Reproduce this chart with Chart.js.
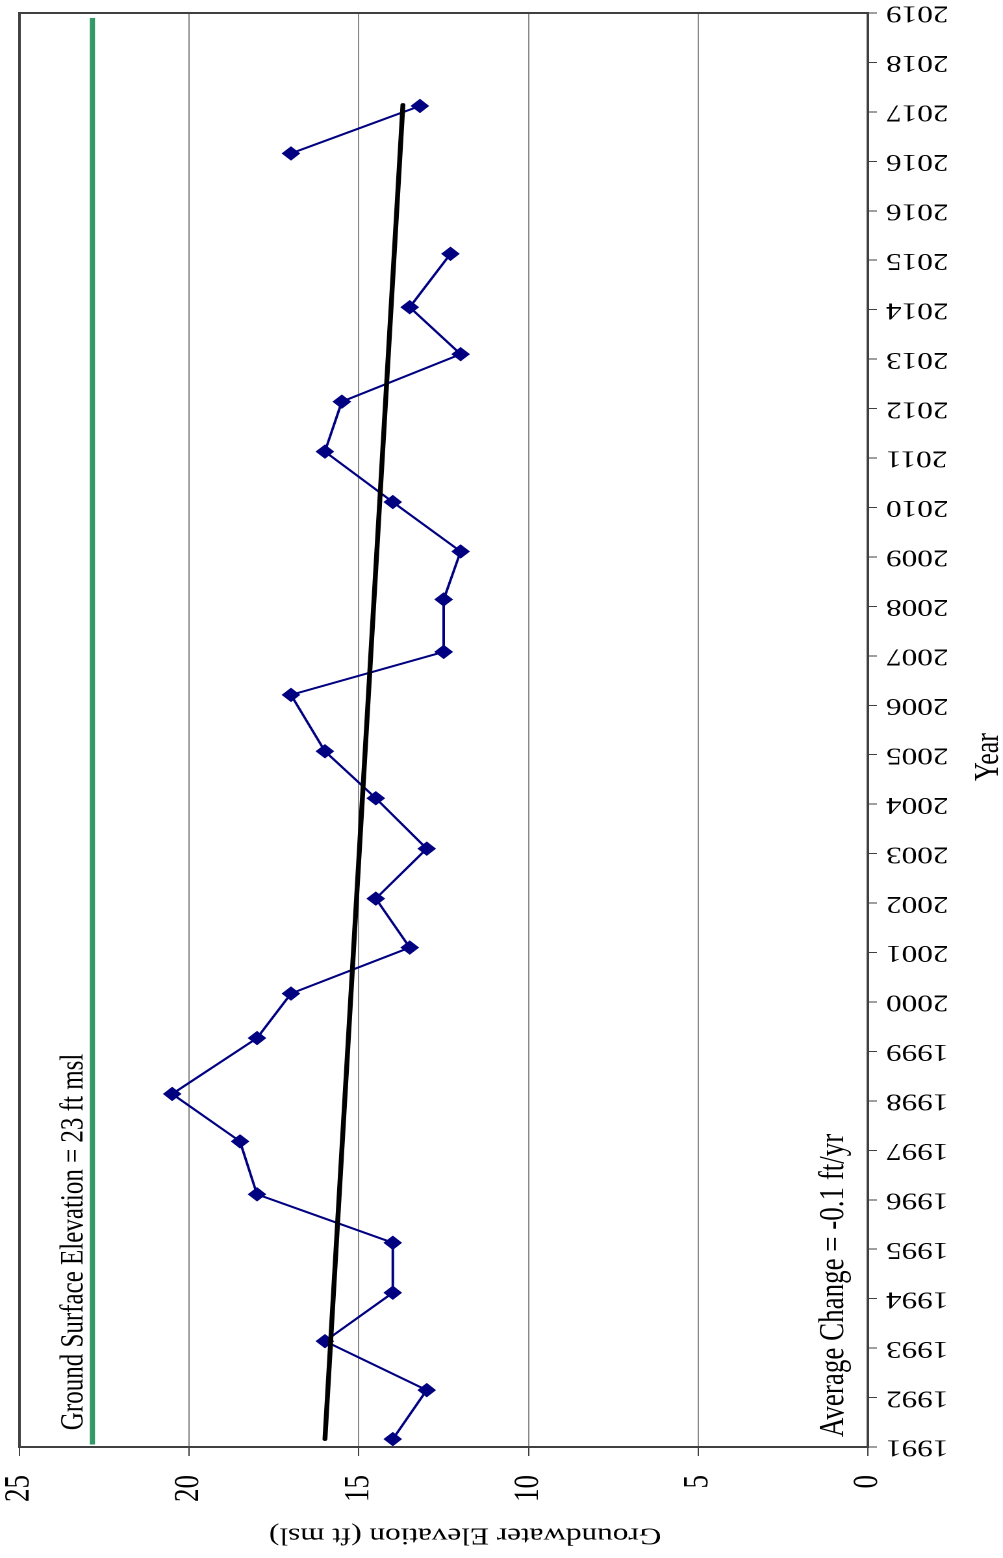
<!DOCTYPE html>
<html>
<head>
<meta charset="utf-8">
<script src="https://cdn.jsdelivr.net/npm/chart.js@4.4.1/dist/chart.umd.min.js"></script>
<style>
  html, body { margin: 0; padding: 0; background: #fff; overflow: hidden; }
  body { width: 1003px; height: 1558px; position: relative; }
  /* chart is drawn upright, then stretched and turned on its side like the scan */
  #stage {
    position: absolute; left: 0; top: 0;
    width: 1558px; height: 772px;
    transform-origin: 0 0;
    transform: translate(0, 1558px) rotate(-90deg) scale(1, 1.2992);
    background: #fff;
  }
</style>
</head>
<body>
<div id="stage"><canvas id="chart"></canvas></div>
<script>
// Axis tick labels (the source axis really shows 2016 twice)
const yearLabels = ['1991', '1992', '1993', '1994', '1995', '1996', '1997', '1998', '1999', '2000',
  '2001', '2002', '2003', '2004', '2005', '2006', '2007', '2008', '2009', '2010',
  '2011', '2012', '2013', '2014', '2015', '2016', '2016', '2017', '2018', '2019'];

// Measurement times, in axis tick units (0 = first tick)
const sampleTimes = [0.16, 1.15, 2.14, 3.12, 4.13, 5.11, 6.18, 7.14, 8.27, 9.17,
  10.10, 11.09, 12.10, 13.12, 14.07, 15.21, 16.08, 17.14, 18.11, 19.11,
  20.13, 21.14, 22.10, 23.05, 24.13, 25.15, 26.16, 27.12];

// Groundwater elevation (ft msl), null = no reading
const elevations = [14.0, 13.0, 16.0, 14.0, 14.0, 18.0, 18.5, 20.5, 18.0, 17.0,
  13.5, 14.5, 13.0, 14.5, 16.0, 17.0, 12.5, 12.5, 12.0, 14.0,
  16.0, 15.5, 12.0, 13.5, 12.3, null, 17.0, 13.2];

// Linear trend end points
const trendTimes = [0.16, 27.14];
const trendValues = [16.0, 13.7];

// Ground surface line
const groundTimes = [0.05, 28.9];
const groundValue = 22.85;

const yTicks = [0, 5, 10, 15, 20, 25];

const groundLabel = 'Ground Surface Elevation = 23 ft msl';
const trendLabel = 'Average Change = -0.1 ft/yr';
const xTitle = 'Year';
const yTitle = 'Groundwater Elevation (ft msl)';

const serif = '"Liberation Serif", "Times New Roman", serif';

const toPoints = (xs, ys) => xs.map((x, i) => ({ x: x, y: ys[i] }));

// scales should not push the plot in for overhanging labels
function noPadding(s) {
  s.paddingLeft = 0;
  s.paddingRight = 0;
  s.paddingTop = 0;
  s.paddingBottom = 0;
}

// Box around plot, axis titles and the two notes
const notes = {
  id: 'notes',
  beforeDatasetsDraw(chart) {
    const { ctx, chartArea: a } = chart;
    ctx.save();
    ctx.strokeStyle = '#404040';
    ctx.lineWidth = 2;
    ctx.strokeRect(a.left, a.top, a.right - a.left, a.bottom - a.top);
    ctx.restore();
  },
  afterDraw(chart) {
    const { ctx, scales: { x, y } } = chart;
    ctx.save();
    ctx.fillStyle = '#000';
    ctx.textBaseline = 'alphabetic';
    ctx.textAlign = 'left';
    ctx.font = '25px ' + serif;
    ctx.fillText(groundLabel, x.getPixelForValue(0.34), y.getPixelForValue(23.15));
    ctx.font = '27px ' + serif;
    ctx.fillText(trendLabel, x.getPixelForValue(0.2), y.getPixelForValue(0.72));

    ctx.textAlign = 'center';
    ctx.font = '26px ' + serif;
    ctx.fillText(xTitle, 801, 768);

    ctx.translate(23, 358);
    ctx.rotate(-Math.PI / 2);
    ctx.textBaseline = 'middle';
    ctx.font = '24px ' + serif;
    ctx.fillText(yTitle, 0, 0);
    ctx.restore();
  }
};

const ctx = document.getElementById('chart').getContext('2d');

new Chart(ctx, {
  type: 'line',
  data: {
    datasets: [{
      label: 'Trend',
      data: toPoints(trendTimes, trendValues),
      borderColor: '#000',
      borderWidth: 3.75,
      borderCapStyle: 'round',
      pointRadius: 0,
      order: 0
    }, {
      label: 'Groundwater Elevation',
      data: toPoints(sampleTimes, elevations),
      borderColor: '#000080',
      backgroundColor: '#000080',
      borderWidth: 2,
      pointStyle: 'rectRot',
      pointRadius: 6.5,
      pointBorderWidth: 1,
      pointBackgroundColor: '#000080',
      pointBorderColor: '#000080',
      spanGaps: false,
      order: 1
    }, {
      label: 'Ground Surface',
      data: toPoints(groundTimes, groundTimes.map(() => groundValue)),
      borderColor: '#339966',
      borderWidth: 4,
      pointRadius: 0,
      order: 2
    }]
  },
  options: {
    responsive: true,
    maintainAspectRatio: false,
    devicePixelRatio: 2,
    animation: false,
    layout: {
      padding: { top: 15, right: 13, left: 0, bottom: 0 }
    },
    plugins: {
      legend: { display: false },
      tooltip: { enabled: false }
    },
    scales: {
      x: {
        type: 'linear',
        min: 0,
        max: yearLabels.length - 1,
        afterFit: s => { s.height = 104; noPadding(s); },
        afterBuildTicks: s => { s.ticks = yearLabels.map((_, i) => ({ value: i })); },
        ticks: {
          autoSkip: false,
          minRotation: 90,
          maxRotation: 90,
          padding: 7,
          color: '#000',
          font: { family: serif, size: 24 },
          callback: (v, i) => yearLabels[i]
        },
        grid: {
          drawOnChartArea: false,
          tickLength: 7,
          color: '#404040'
        },
        border: { color: '#404040', width: 2 }
      },
      y: {
        min: 0,
        max: 25,
        afterFit: s => { s.width = 111; noPadding(s); },
        afterBuildTicks: s => { s.ticks = yTicks.map(v => ({ value: v })); },
        ticks: {
          padding: 19,
          color: '#000',
          font: { family: serif, size: 27 }
        },
        grid: {
          color: '#888',
          lineWidth: 1,
          tickColor: '#404040',
          tickLength: 9
        },
        border: { color: '#404040', width: 2 }
      }
    }
  },
  plugins: [notes]
});
</script>
</body>
</html>
